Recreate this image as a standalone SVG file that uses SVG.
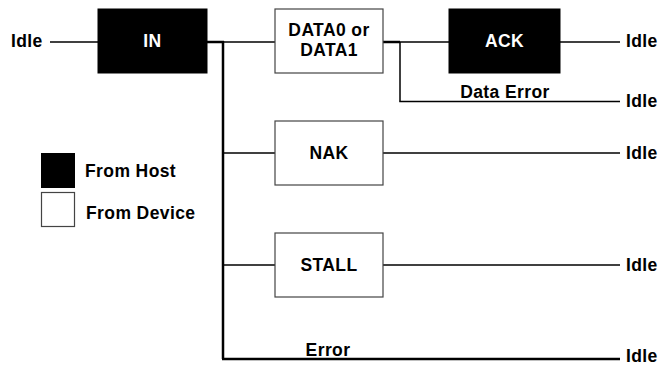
<svg xmlns="http://www.w3.org/2000/svg" width="665" height="366" viewBox="0 0 665 366">
  <style>
    text { font-family: "Liberation Sans", Arial, sans-serif; font-weight: bold; font-size: 17.5px; letter-spacing: 0.4px; fill: #000; }
    .mid { text-anchor: middle; }
    .white { fill: #fff; }
    .host { fill: #000; stroke: #000; stroke-width: 1; }
    .dev { fill: #fff; stroke: #444; stroke-width: 1.2; }
    .wire { stroke: #000; stroke-width: 1.5; fill: none; }
    .bus { stroke: #000; stroke-width: 2.5; fill: none; }
  </style>
  <rect width="665" height="366" fill="#fff"/>

  <!-- connectors -->
  <g id="connectors">
    <line class="wire" x1="50" y1="42" x2="98" y2="42"/>
    <line class="bus" x1="207" y1="42" x2="224" y2="42"/>
    <line class="wire" x1="224" y1="42" x2="275" y2="42"/>
    <line class="bus" x1="223" y1="41" x2="223" y2="359"/>
    <line class="wire" x1="223" y1="153" x2="275" y2="153"/>
    <line class="wire" x1="223" y1="265" x2="275" y2="265"/>
    <line class="bus" x1="222" y1="359" x2="620" y2="359"/>
    <line class="bus" x1="383" y1="42" x2="400" y2="42"/>
    <line class="wire" x1="400" y1="42" x2="449" y2="42"/>
    <line class="wire" x1="400" y1="42" x2="400" y2="101.5"/>
    <line class="wire" x1="399.3" y1="101.5" x2="620" y2="101.5"/>
    <line class="wire" x1="560" y1="42" x2="620" y2="42"/>
    <line class="wire" x1="383" y1="153" x2="620" y2="153"/>
    <line class="wire" x1="383" y1="265" x2="620" y2="265"/>
  </g>

  <!-- nodes -->
  <g id="in">
    <rect class="host" x="98" y="9" width="109" height="64"/>
    <text class="mid white" x="152.5" y="47">IN</text>
  </g>
  <g id="data">
    <rect class="dev" x="275" y="9" width="108" height="64"/>
    <text class="mid" x="329" y="36">DATA0 or</text>
    <text class="mid" x="329" y="56">DATA1</text>
  </g>
  <g id="ack">
    <rect class="host" x="449" y="9" width="111" height="64"/>
    <text class="mid white" x="504.5" y="47">ACK</text>
  </g>
  <g id="nak">
    <rect class="dev" x="275" y="121" width="108" height="64"/>
    <text class="mid" x="329" y="159">NAK</text>
  </g>
  <g id="stall">
    <rect class="dev" x="275" y="233" width="108" height="64"/>
    <text class="mid" x="329" y="271">STALL</text>
  </g>

  <!-- labels -->
  <g id="labels">
    <text x="11" y="47">Idle</text>
    <text x="626" y="47">Idle</text>
    <text x="626" y="107">Idle</text>
    <text x="626" y="159">Idle</text>
    <text x="626" y="271">Idle</text>
    <text x="626" y="362">Idle</text>
    <text class="mid" x="505" y="98">Data Error</text>
    <text class="mid" x="328" y="356">Error</text>
  </g>

  <!-- legend -->
  <g id="legend">
    <rect class="host" x="41.5" y="153.5" width="33" height="34"/>
    <rect class="dev" x="41.5" y="192.5" width="33" height="34"/>
    <text x="85" y="177">From Host</text>
    <text x="86" y="219">From Device</text>
  </g>
</svg>
